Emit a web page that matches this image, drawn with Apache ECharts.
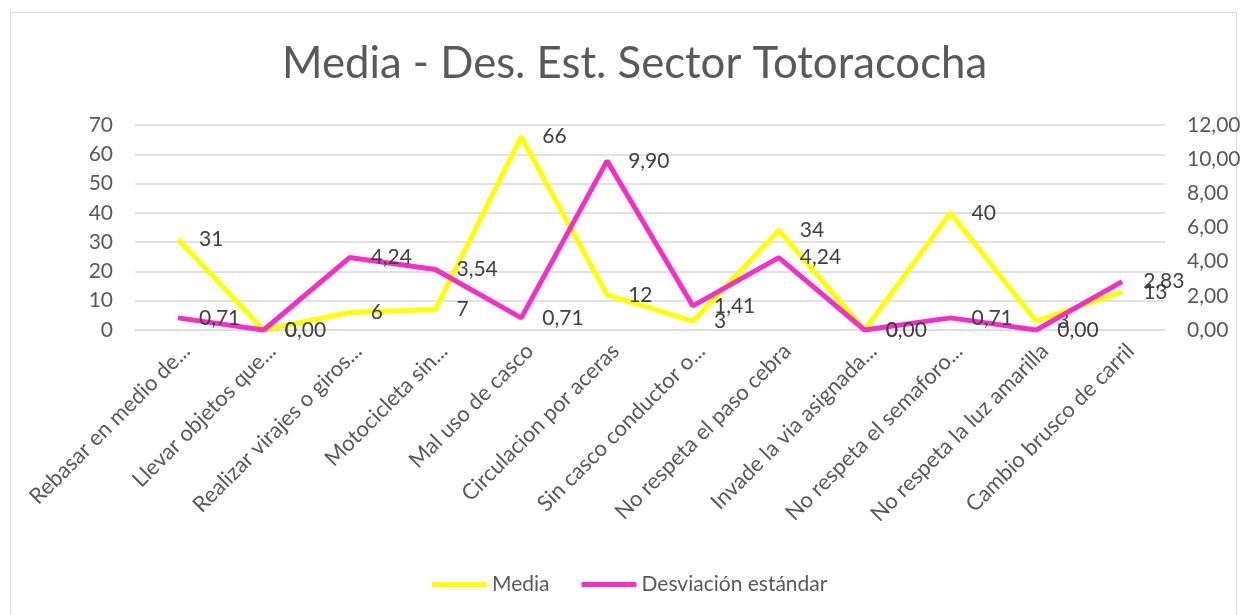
<!DOCTYPE html>
<html>
<head>
<meta charset="utf-8">
<script src="https://cdn.jsdelivr.net/npm/echarts@6/dist/echarts.min.js"></script>
<style>
html, body { margin: 0; padding: 0; background: #fff; }
#chart { width: 1248px; height: 615px; }
</style>
</head>
<body>
<div id="chart"></div>
<script>
// categorias (eje X)
var categorias = ['Rebasar en medio de...', 'Llevar objetos que...', 'Realizar virajes o giros...', 'Motocicleta sin...',
    'Mal uso de casco', 'Circulacion por aceras', 'Sin casco conductor o...', 'No respeta el paso cebra',
    'Invade la via asignada...', 'No respeta el semaforo...', 'No respeta la luz amarilla', 'Cambio brusco de carril'];
// series
var media = [31, 0, 6, 7, 66, 12, 3, 34, 0, 40, 3, 13];
var desvEst = [0.71, 0.00, 4.24, 3.54, 0.71, 9.90, 1.41, 4.24, 0.00, 0.71, 0.00, 2.83];

var fuente = 'Lato';
var gris = '#595959';
var amarillo = '#ffff00';
var magenta = '#f52ec6';

function coma(v) {
    return Number(v).toFixed(2).replace('.', ',');
}

var chart = echarts.init(document.getElementById('chart'));
var option = {
    textStyle: { fontFamily: fuente },
    title: {
        text: 'Media - Des. Est. Sector Totoracocha',
        left: 277,
        top: 37,
        textStyle: { fontFamily: fuente, fontSize: 43.7, fontWeight: 'normal', color: gris }
    },
    graphic: [{
        type: 'rect',
        shape: { x: 10.5, y: 12.5, width: 1226, height: 610 },
        style: { fill: 'none', stroke: '#d9d9d9', lineWidth: 1 },
        silent: true
    }],
    legend: {
        bottom: 15,
        left: 427,
        itemWidth: 55,
        itemHeight: 5,
        itemGap: 32,
        textStyle: { fontFamily: fuente, fontSize: 21, color: gris },
        data: [
            { name: 'Media', icon: 'roundRect', itemStyle: { color: amarillo } },
            { name: 'Desviación estándar', icon: 'roundRect', itemStyle: { color: magenta } }
        ]
    },
    grid: { left: 135, right: 83, top: 125, bottom: 285, containLabel: false },
    xAxis: {
        type: 'category',
        data: categorias,
        boundaryGap: true,
        axisLine: { show: true, lineStyle: { color: '#d9d9d9' } },
        axisTick: { show: false },
        axisLabel: {
            rotate: 45,
            interval: 0,
            margin: 9,
            verticalAlign: 'top',
            lineHeight: 24,
            fontFamily: fuente,
            fontSize: 22,
            color: gris
        }
    },
    yAxis: [{
        type: 'value',
        min: 0,
        max: 70,
        interval: 10,
        axisLine: { show: false },
        axisTick: { show: false },
        splitLine: { lineStyle: { color: '#d9d9d9', width: 1.5 } },
        axisLabel: { fontFamily: fuente, fontSize: 21, color: gris, margin: 22 }
    }, {
        type: 'value',
        min: 0,
        max: 12,
        interval: 2,
        axisLine: { show: false },
        axisTick: { show: false },
        splitLine: { show: false },
        axisLabel: {
            fontFamily: fuente, fontSize: 21, color: gris, margin: 22,
            formatter: function (v) { return coma(v); }
        }
    }],
    series: [{
        name: 'Media',
        type: 'line',
        yAxisIndex: 0,
        data: media,
        symbol: 'circle',
        symbolSize: 0.1,
        showSymbol: true,
        color: amarillo,
        lineStyle: { width: 5, color: amarillo },
        z: 2,
        label: {
            show: true,
            position: 'right',
            distance: 21,
            fontFamily: fuente,
            fontSize: 21,
            color: '#404040'
        }
    }, {
        name: 'Desviación estándar',
        type: 'line',
        yAxisIndex: 1,
        data: desvEst,
        symbol: 'circle',
        symbolSize: 0.1,
        showSymbol: true,
        color: magenta,
        lineStyle: { width: 5, color: magenta },
        z: 3,
        label: {
            show: true,
            position: 'right',
            distance: 21,
            fontFamily: fuente,
            fontSize: 21,
            color: '#404040',
            formatter: function (p) { return coma(p.value); }
        }
    }],
    animation: false
};
chart.setOption(option);

window.onresize = function () {
    chart.resize();
};
</script>
</body>
</html>
